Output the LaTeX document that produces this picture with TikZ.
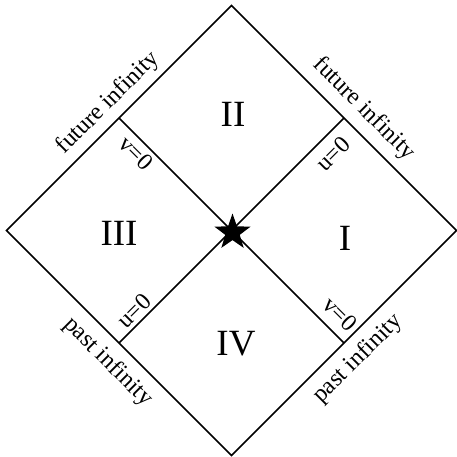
\documentclass[tikz,border=0pt]{standalone}
\usepackage{fontspec}
\setmainfont{Liberation Serif}
\usetikzlibrary{shapes.geometric}
\begin{document}
\begin{tikzpicture}[x=1pt,y=-1pt,
  edge/.style={line width=1.6pt, line join=miter},
  numeral/.style={font=\fontsize{37}{37}\selectfont, inner sep=0pt},
  lab/.style={font=\fontsize{24}{24}\selectfont, inner sep=0pt},
  starmark/.style={star, star points=5, star point ratio=2.5, minimum size=38pt, inner sep=0pt, fill=black, draw=none}]
\useasboundingbox (0,0) rectangle (457,456);
\coordinate (T) at (231.5,5.5);
\coordinate (L) at (6.5,230.5);
\coordinate (R) at (456.5,230.5);
\coordinate (B) at (231.5,455.5);
\coordinate (TL) at (119,118);
\coordinate (TR) at (344,118);
\coordinate (BL) at (119,343);
\coordinate (BR) at (344,343);
\coordinate (C) at (231.5,230.5);
\draw[edge] (T) -- (R) -- (B) -- (L) -- cycle;
\draw[edge] (TL) -- (C) -- (BR);
\draw[edge] (TR) -- (C) -- (BL);
\node[starmark] (star) at (232.5,232.5) {};
\node[numeral] (II) at (233,114) {II};
\node[numeral] (III) at (119,233) {III};
\node[numeral] (IV) at (236,344) {IV};
\node[numeral] (I) at (345,238) {I};
\node[lab, rotate=45] (fl) at (108,103) {future infinity};
\node[lab, rotate=-45] (fr) at (364,109) {future infinity};
\node[lab, rotate=-45] (pl) at (108,362) {past infinity};
\node[lab, rotate=45] (pr) at (358,359) {past infinity};
\node[lab, rotate=-45] (v1) at (136,153) {v=0};
\node[lab, rotate=45] (u1) at (333,154) {u=0};
\node[lab, rotate=45] (u2) at (134,311) {u=0};
\node[lab, rotate=-45] (v2) at (340,314) {v=0};
\end{tikzpicture}
\end{document}
